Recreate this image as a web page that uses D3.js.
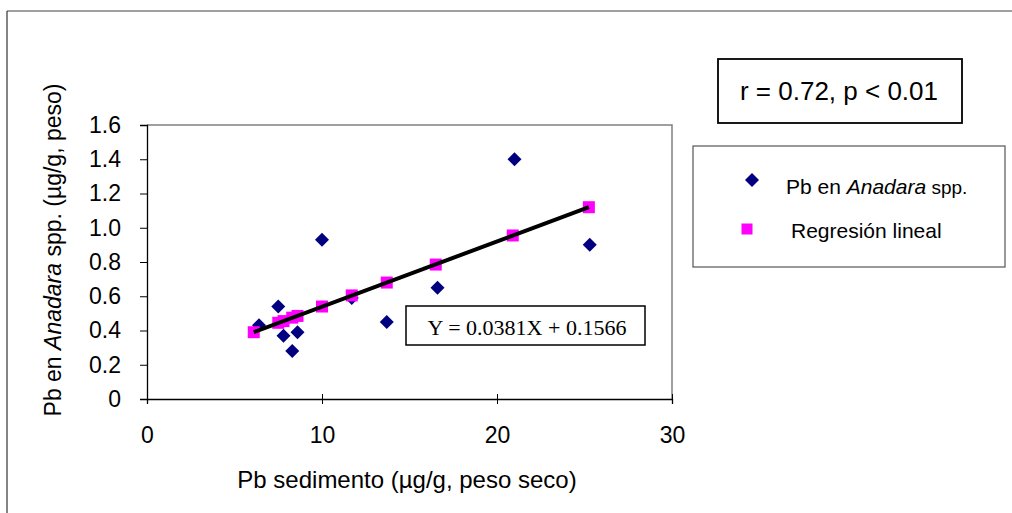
<!DOCTYPE html>
<html><head><meta charset="utf-8">
<script src="https://cdn.jsdelivr.net/npm/d3@7"></script>
<style>body{margin:0;background:#fff}svg{display:block}</style>
</head><body>
<svg id="c" width="1012" height="513"></svg>
<script>
// Data
const sedimentX = [6.4, 7.5, 7.8, 8.3, 8.6, 10.0, 11.7, 13.7, 16.6, 21.0, 25.3];
const anadaraY  = [0.43, 0.54, 0.37, 0.28, 0.39, 0.93, 0.59, 0.45, 0.65, 1.40, 0.90];
const regX = [6.1, 7.5, 7.8, 8.3, 8.6, 10.0, 11.7, 13.7, 16.5, 20.9, 25.25];
const regY = [0.39, 0.445, 0.455, 0.475, 0.485, 0.54, 0.605, 0.68, 0.785, 0.955, 1.12];
const fitX = [6.1, 25.25];
const fitY = [0.39, 1.12];
const xTicks = [0, 10, 20, 30];
const yTicks = [0, 0.2, 0.4, 0.6, 0.8, 1.0, 1.2, 1.4, 1.6];
const yTickLabels = ["0", "0.2", "0.4", "0.6", "0.8", "1.0", "1.2", "1.4", "1.6"];
const legendLabels = ["Pb en ", "Anadara", " spp.", "Regresión lineal"];
const equationText = "Y = 0.0381X + 0.1566";
const statsText = "r = 0.72, p < 0.01";

const svg = d3.select("#c");
const F = "Arial, 'Liberation Sans', sans-serif";

// outer frame
svg.append("line").attr("x1",7).attr("y1",11).attr("x2",1012).attr("y2",11).attr("stroke","#808080").attr("stroke-width",1.5);
svg.append("line").attr("x1",7).attr("y1",11).attr("x2",7).attr("y2",513).attr("stroke","#333").attr("stroke-width",1.2);

const x = d3.scaleLinear().domain([0,30]).range([147,672]);
const y = d3.scaleLinear().domain([0,1.6]).range([399,125]);

// plot area border (top/right)
svg.append("path").attr("d",`M${x(0)},${y(1.6)}H${x(30)}V${y(0)}`).attr("fill","none").attr("stroke","#808080").attr("stroke-width",1.5);

// y axis
const ya = svg.append("g").attr("transform",`translate(${x(0)},0)`)
  .call(d3.axisLeft(y).tickValues(yTicks).tickSize(7).tickPadding(19).tickFormat((d,i)=>yTickLabels[i]));
ya.select(".domain").attr("stroke","#000").attr("stroke-width",1.3);
ya.selectAll(".tick line").attr("stroke","#000");
ya.selectAll(".tick text").attr("font-family",F).attr("font-size",23).attr("fill","#000");

// x axis
const xa = svg.append("g").attr("transform",`translate(0,${y(0)})`)
  .call(d3.axisBottom(x).tickValues(xTicks).tickSize(5).tickFormat(d3.format("d")));
xa.select(".domain").attr("stroke","#000").attr("stroke-width",1.3);
xa.selectAll(".tick line").attr("stroke","#000").attr("y1",-5);
xa.selectAll(".tick text").attr("font-family",F).attr("font-size",23).attr("fill","#000")
  .attr("dy",null).attr("y",44);

// diamonds
const diamond = d3.symbol().type(d3.symbolSquare).size(98);
svg.append("g").selectAll("path").data(sedimentX).join("path")
  .attr("d",diamond())
  .attr("transform",(d,i)=>`translate(${x(d)},${y(anadaraY[i])}) rotate(45)`)
  .attr("fill","#000080");

// squares
const sq = d3.symbol().type(d3.symbolSquare).size(144);
svg.append("g").selectAll("path").data(regX).join("path")
  .attr("d",sq())
  .attr("transform",(d,i)=>`translate(${x(d)},${y(regY[i])})`)
  .attr("fill","#FF00FF");

// regression line
svg.append("path").datum(fitX.map((d,i)=>[d,fitY[i]]))
  .attr("d",d3.line().x(d=>x(d[0])).y(d=>y(d[1])))
  .attr("stroke","#000").attr("stroke-width",4).attr("fill","none");

// equation box
svg.append("rect").attr("x",406).attr("y",306).attr("width",239).attr("height",39).attr("fill","#fff").attr("stroke","#000").attr("stroke-width",1.5);
svg.append("text").attr("x",527).attr("y",335).attr("text-anchor","middle").attr("font-family","'Liberation Serif','Times New Roman',serif").attr("font-size",22).text(equationText);

// stats box
svg.append("rect").attr("x",718).attr("y",59).attr("width",244).attr("height",64).attr("fill","#fff").attr("stroke","#000").attr("stroke-width",1.8);
svg.append("text").attr("x",839).attr("y",100).attr("text-anchor","middle").attr("font-family",F).attr("font-size",26).text(statsText);

// legend
svg.append("rect").attr("x",693).attr("y",146).attr("width",312).attr("height",121).attr("fill","#fff").attr("stroke","#555").attr("stroke-width",1.2);
svg.append("path").attr("d",diamond()).attr("transform",`translate(752,180) rotate(45)`).attr("fill","#000080");
svg.append("path").attr("d",d3.symbol().type(d3.symbolSquare).size(121)()).attr("transform",`translate(747,229)`).attr("fill","#FF00FF");
const lt = svg.append("text").attr("x",786).attr("y",194).attr("font-family",F).attr("font-size",21);
lt.append("tspan").text(legendLabels[0]);
lt.append("tspan").attr("font-style","italic").text(legendLabels[1]);
lt.append("tspan").attr("font-size",19).text(legendLabels[2]);
svg.append("text").attr("x",791).attr("y",238).attr("font-family",F).attr("font-size",21).text(legendLabels[3]);

// axis titles
svg.append("text").attr("x",407).attr("y",488).attr("text-anchor","middle").attr("font-family",F).attr("font-size",24).text("Pb sedimento (µg/g, peso seco)");
const yt = svg.append("text").attr("transform","translate(61,250) rotate(-90)").attr("text-anchor","middle").attr("font-family",F).attr("font-size",23);
yt.append("tspan").text("Pb en ");
yt.append("tspan").attr("font-style","italic").text("Anadara");
yt.append("tspan").text(" spp. (µg/g, peso)");
</script>
</body></html>
